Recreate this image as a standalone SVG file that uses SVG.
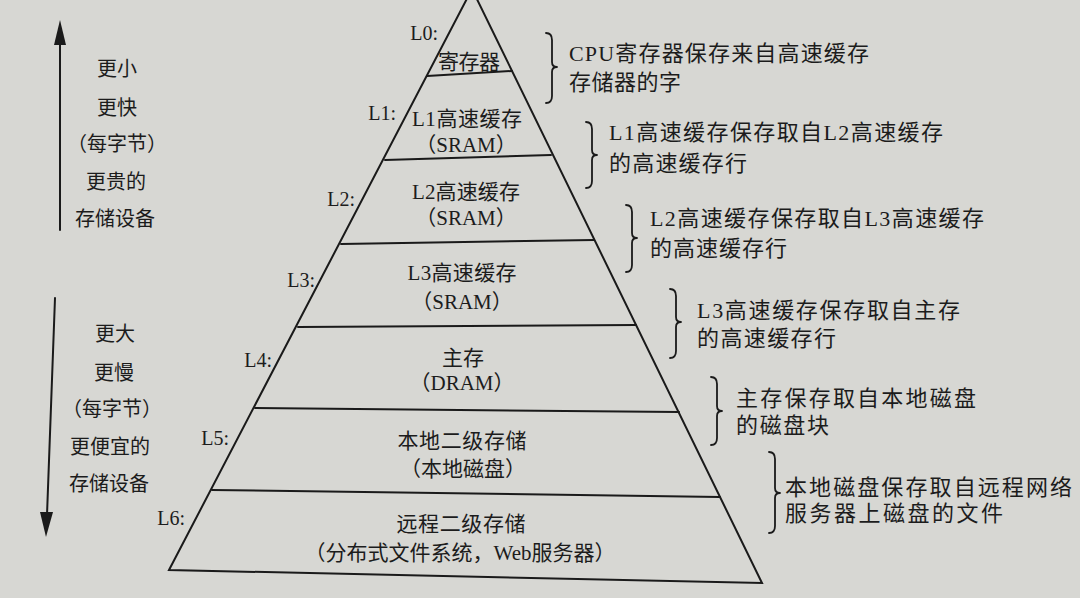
<svg xmlns="http://www.w3.org/2000/svg" width="1080" height="598" viewBox="0 0 1080 598">
<defs>
<style>
.t{font-family:"Liberation Serif","Noto Sans CJK SC",serif;fill:#1c1c1c;}
.c{font-size:21px;text-anchor:middle;}
.lv{font-size:20px;text-anchor:end;}
.l{font-size:20px;text-anchor:middle;}
.r{font-size:22px;}
.ln{stroke:#1a1a1a;stroke-width:2;fill:none;stroke-linecap:round;}
.br{stroke:#1a1a1a;stroke-width:1.8;fill:none;stroke-linecap:round;stroke-linejoin:round;}
</style>
</defs>
<rect width="1080" height="598" fill="#d7d7d3"/>

<g id="pyramid">
<path class="ln" d="M169,570 L472,-11 L762,583 Z"/>
<line class="ln" x1="427" y1="76" x2="512" y2="71"/>
<line class="ln" x1="385" y1="160" x2="551" y2="155"/>
<line class="ln" x1="341" y1="244" x2="594" y2="240"/>
<line class="ln" x1="298" y1="327" x2="636" y2="325"/>
<line class="ln" x1="255" y1="408" x2="679" y2="412"/>
<line class="ln" x1="212" y1="490" x2="720" y2="497"/>
</g>

<g id="L0">
<text class="t lv" x="438" y="40">L0:</text>
<text class="t c" x="469" y="69" textLength="62">寄存器</text>
</g>
<g id="L1">
<text class="t lv" x="396" y="120">L1:</text>
<text class="t c" x="467" y="126" textLength="110">L1高速缓存</text>
<text class="t c" x="466" y="152">（SRAM）</text>
</g>
<g id="L2">
<text class="t lv" x="355" y="206">L2:</text>
<text class="t c" x="466" y="199" textLength="108">L2高速缓存</text>
<text class="t c" x="466" y="225">（SRAM）</text>
</g>
<g id="L3">
<text class="t lv" x="315" y="287">L3:</text>
<text class="t c" x="462" y="280" textLength="109">L3高速缓存</text>
<text class="t c" x="462" y="309">（SRAM）</text>
</g>
<g id="L4">
<text class="t lv" x="272" y="367">L4:</text>
<text class="t c" x="463" y="365" textLength="42">主存</text>
<text class="t c" x="462" y="390">（DRAM）</text>
</g>
<g id="L5">
<text class="t lv" x="229" y="445">L5:</text>
<text class="t c" x="462" y="448" textLength="129">本地二级存储</text>
<text class="t c" x="463" y="476">（本地磁盘）</text>
</g>
<g id="L6">
<text class="t lv" x="185" y="525">L6:</text>
<text class="t c" x="461" y="531" textLength="129">远程二级存储</text>
<text class="t c" x="460" y="560">（分布式文件系统，Web服务器）</text>
</g>

<g id="left-up">
<line class="ln" x1="60" y1="230" x2="60" y2="40"/>
<polygon points="60,20 54,45 66,45" fill="#1a1a1a"/>
<text class="t l" x="117" y="76">更小</text>
<text class="t l" x="117" y="115">更快</text>
<text class="t l" x="117" y="151">（每字节）</text>
<text class="t l" x="116" y="189">更贵的</text>
<text class="t l" x="115" y="226">存储设备</text>
</g>
<g id="left-down">
<line class="ln" x1="55" y1="298" x2="47" y2="515"/>
<polygon points="46,537 40,512 53,512" fill="#1a1a1a"/>
<text class="t l" x="115" y="341">更大</text>
<text class="t l" x="114" y="380">更慢</text>
<text class="t l" x="112" y="416">（每字节）</text>
<text class="t l" x="110" y="454">更便宜的</text>
<text class="t l" x="109" y="491">存储设备</text>
</g>

<g id="connectors">
<path class="br" d="M546,33 Q552,33 552,40 L552,62 Q552,67 557,67 Q552,67 552,72 L552,96 Q552,103 546,103"/>
<path class="br" d="M586,122 Q592,122 592,129 L592,150 Q592,155 597,155 Q592,155 592,160 L592,181 Q592,188 586,188"/>
<path class="br" d="M626,205 Q632,205 632,212 L632,233 Q632,238 637,238 Q632,238 632,243 L632,265 Q632,272 626,272"/>
<path class="br" d="M670,289 Q676,289 676,296 L676,317 Q676,322 681,322 Q676,322 676,327 L676,351 Q676,358 670,358"/>
<path class="br" d="M711,377 Q717,377 717,384 L717,406 Q717,411 722,411 Q717,411 717,416 L717,438 Q717,445 711,445"/>
<path class="br" d="M769,452 Q775,452 775,459 L775,488 Q775,493 780,493 Q775,493 775,498 L775,526 Q775,533 769,533"/>
</g>

<g id="note0">
<text class="t r" x="569" y="61" textLength="300">CPU寄存器保存来自高速缓存</text>
<text class="t r" x="569" y="90" textLength="112">存储器的字</text>
</g>
<g id="note1">
<text class="t r" x="609" y="140" textLength="334">L1高速缓存保存取自L2高速缓存</text>
<text class="t r" x="609" y="171" textLength="138">的高速缓存行</text>
</g>
<g id="note2">
<text class="t r" x="650" y="226" textLength="334">L2高速缓存保存取自L3高速缓存</text>
<text class="t r" x="650" y="256" textLength="137">的高速缓存行</text>
</g>
<g id="note3">
<text class="t r" x="697" y="318" textLength="263">L3高速缓存保存取自主存</text>
<text class="t r" x="697" y="346" textLength="139">的高速缓存行</text>
</g>
<g id="note4">
<text class="t r" x="736" y="406" textLength="240">主存保存取自本地磁盘</text>
<text class="t r" x="736" y="433" textLength="93">的磁盘块</text>
</g>
<g id="note5">
<text class="t r" x="785" y="495" textLength="287">本地磁盘保存取自远程网络</text>
<text class="t r" x="785" y="521" textLength="218">服务器上磁盘的文件</text>
</g>
</svg>
